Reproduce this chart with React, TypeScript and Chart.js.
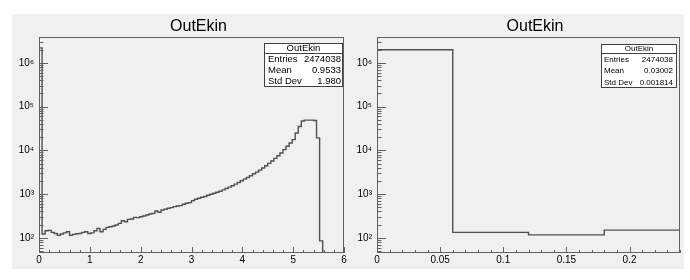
import React, { useEffect, useRef } from 'react';
import { Chart, registerables } from 'chart.js';

Chart.register(...registerables);

// ---------- data ----------
const TITLE = 'OutEkin';

const LEFT_RANGE = [0, 6];
const LEFT_COUNTS = [
  2200000, 122, 145, 148, 133, 126, 115, 122, 130, 138,
  115, 120, 124, 126, 133, 138, 126, 130, 145, 164,
  138, 156, 173, 179, 186, 196, 214, 246, 234, 264,
  269, 294, 289, 304, 315, 332, 350, 363, 411, 383,
  433, 449, 473, 490, 517, 535, 545, 585, 617, 639,
  710, 762, 804, 848, 878, 942, 993, 1047, 1104, 1164,
  1250, 1341, 1439, 1545, 1687, 1842, 2012, 2197, 2399, 2620,
  2911, 3182, 3539, 3936, 4449, 5034, 5697, 6559, 7551, 8704,
  10380, 12380, 14760, 17610, 25000, 35000, 47000, 49000, 49000, 49000,
  48000, 19300, 85, 0, 0, 0, 0, 0, 0, 0,
];

const RIGHT_RANGE = [0, 0.24];
const RIGHT_COUNTS = [2000000, 133, 117, 150];

const Y_MIN = 45;
const Y_MAX = 3.9e6;
const Y_TICKS = [100, 1000, 10000, 100000, 1000000];
const Y_TICK_LABELS = ['10²', '10³', '10⁴', '10⁵', '10⁶'];

const LEFT_X_TICKS = [0, 1, 2, 3, 4, 5, 6];
const LEFT_X_LABELS = ['0', '1', '2', '3', '4', '5', '6'];
const RIGHT_X_TICKS = [0, 0.05, 0.1, 0.15, 0.2];
const RIGHT_X_LABELS = ['0', '0.05', '0.1', '0.15', '0.2'];

const LEFT_STATS_LABELS = ['Entries', 'Mean', 'Std Dev'];
const LEFT_STATS_VALUES = ['2474038', '0.9533', '1.980'];
const RIGHT_STATS_LABELS = ['Entries', 'Mean', 'Std Dev'];
const RIGHT_STATS_VALUES = ['2474038', '0.03002', '0.001814'];

// ---------- style ----------
const FONT = '"Liberation Sans", Arial, Helvetica, sans-serif';
const LINE_COLOR = '#505050';
const FRAME_COLOR = '#606060';
const LOG_FLOOR = 1; // empty bins are drawn below the axis minimum

function histPoints(counts: number[], lo: number, hi: number) {
  const w = (hi - lo) / counts.length;
  const pts: { x: number; y: number }[] = [{ x: lo, y: LOG_FLOOR }];
  counts.forEach((c, i) => pts.push({ x: lo + i * w, y: Math.max(c, LOG_FLOOR) }));
  pts.push({ x: hi, y: Math.max(counts[counts.length - 1], LOG_FLOOR) });
  pts.push({ x: hi, y: LOG_FLOOR });
  return pts;
}

const rootPlugin = {
  id: 'rootStyle',
  afterDatasetsDraw(chart: any, _args: any, opts: any) {
    const { ctx, chartArea: a, scales } = chart;
    const xs = scales.x;
    const ys = scales.y;
    ctx.save();
    ctx.strokeStyle = FRAME_COLOR;
    ctx.lineWidth = 1;
    // frame
    ctx.strokeRect(a.left + 0.5, a.top + 0.5, a.right - a.left - 1, a.bottom - a.top - 1);
    // y ticks (inward)
    ctx.beginPath();
    for (let d = 10; d <= 1e7; d *= 10) {
      for (let k = 1; k <= 9; k++) {
        const v = k * d;
        if (v < ys.min || v > ys.max) continue;
        const py = Math.round(ys.getPixelForValue(v)) + 0.5;
        const len = k === 1 ? 9 : 4.5;
        ctx.moveTo(a.left, py);
        ctx.lineTo(a.left + len, py);
      }
    }
    // x ticks (inward)
    const lo = xs.min;
    const hi = xs.max;
    const n = Math.round((hi - lo) / opts.minorStep);
    for (let i = 0; i <= n; i++) {
      const v = lo + i * opts.minorStep;
      if (v > hi + 1e-9) continue;
      const px = Math.round(xs.getPixelForValue(v)) + 0.5;
      const major = i % opts.minorPerMajor === 0;
      const len = major ? 6 : 3;
      ctx.moveTo(px, a.bottom);
      ctx.lineTo(px, a.bottom - len);
    }
    ctx.stroke();
    ctx.restore();
  },
  afterDraw(chart: any, _args: any, opts: any) {
    const { ctx } = chart;
    ctx.save();
    // title
    ctx.fillStyle = '#000';
    ctx.font = `16px ${FONT}`;
    ctx.textAlign = 'center';
    ctx.textBaseline = 'alphabetic';
    ctx.fillText(opts.title, opts.titleX, opts.titleY);
    // stats box
    const b = opts.box;
    ctx.fillStyle = '#ffffff';
    ctx.fillRect(b.x, b.y, b.w, b.h);
    ctx.strokeStyle = '#404040';
    ctx.lineWidth = 1;
    ctx.strokeRect(b.x + 0.5, b.y + 0.5, b.w - 1, b.h - 1);
    ctx.beginPath();
    ctx.moveTo(b.x, b.y + b.header + 0.5);
    ctx.lineTo(b.x + b.w, b.y + b.header + 0.5);
    ctx.stroke();
    ctx.fillStyle = '#000';
    ctx.font = `${b.font}px ${FONT}`;
    ctx.textBaseline = 'middle';
    ctx.textAlign = 'center';
    ctx.fillText(opts.title, b.x + b.w / 2, b.y + b.header / 2 + 0.5);
    const rowH = (b.h - b.header) / opts.labels.length;
    opts.labels.forEach((lab: string, i: number) => {
      const cy = b.y + b.header + rowH * (i + 0.5) + 0.5;
      ctx.textAlign = 'left';
      ctx.fillText(lab, b.x + b.padL, cy);
      ctx.textAlign = 'right';
      ctx.fillText(opts.values[i], b.x + b.w - b.padR, cy);
    });
    ctx.restore();
  },
};

function makeChart(
  canvas: HTMLCanvasElement,
  cfg: {
    counts: number[];
    range: number[];
    xTicks: number[];
    xLabels: string[];
    yWidth: number;
    padRight: number;
    minorStep: number;
    minorPerMajor: number;
    titleX: number;
    box: any;
    labels: string[];
    values: string[];
  }
) {
  return new Chart(canvas, {
    type: 'line',
    data: {
      datasets: [
        {
          data: histPoints(cfg.counts, cfg.range[0], cfg.range[1]),
          stepped: 'before',
          borderColor: LINE_COLOR,
          borderWidth: 1.4,
          pointRadius: 0,
          fill: false,
        },
      ],
    },
    options: {
      responsive: false,
      animation: false,
      events: [],
      layout: { padding: { left: 0, right: cfg.padRight, top: 37, bottom: 0 } },
      plugins: {
        legend: { display: false },
        title: { display: false },
        tooltip: { enabled: false },
        rootStyle: {
          title: TITLE,
          titleX: cfg.titleX,
          titleY: 31,
          minorStep: cfg.minorStep,
          minorPerMajor: cfg.minorPerMajor,
          box: cfg.box,
          labels: cfg.labels,
          values: cfg.values,
        },
      } as any,
      scales: {
        x: {
          type: 'linear',
          min: cfg.range[0],
          max: cfg.range[1],
          grid: { display: false, drawTicks: false },
          border: { display: false },
          afterBuildTicks: (s: any) => {
            s.ticks = cfg.xTicks.map((v) => ({ value: v }));
          },
          afterFit: (s: any) => {
            s.height = 27;
            s.paddingLeft = 0;
            s.paddingRight = 0;
          },
          ticks: {
            padding: 1,
            maxRotation: 0,
            autoSkip: false,
            color: '#000',
            font: { family: FONT, size: 10 },
            callback: (_v: any, i: number) => cfg.xLabels[i],
          },
        },
        y: {
          type: 'logarithmic',
          min: Y_MIN,
          max: Y_MAX,
          grid: { display: false, drawTicks: false },
          border: { display: false },
          afterBuildTicks: (s: any) => {
            s.ticks = Y_TICKS.map((v) => ({ value: v }));
          },
          afterFit: (s: any) => {
            s.width = cfg.yWidth;
            s.paddingTop = 0;
            s.paddingBottom = 0;
          },
          ticks: {
            padding: 5,
            autoSkip: false,
            color: '#000',
            font: { family: FONT, size: 10 },
            callback: (_v: any, i: number) => Y_TICK_LABELS[i],
          },
        },
      },
    },
    plugins: [rootPlugin],
  } as any);
}

export default function App() {
  const leftRef = useRef<HTMLCanvasElement>(null);
  const rightRef = useRef<HTMLCanvasElement>(null);

  useEffect(() => {
    Chart.defaults.font.family = FONT;
    const left = makeChart(leftRef.current!, {
      counts: LEFT_COUNTS,
      range: LEFT_RANGE,
      xTicks: LEFT_X_TICKS,
      xLabels: LEFT_X_LABELS,
      yWidth: 39,
      padRight: 16,
      minorStep: 0.2,
      minorPerMajor: 5,
      titleX: 198.5,
      box: { x: 264, y: 43, w: 79, h: 44, header: 10, font: 9.5, padL: 4, padR: 2 },
      labels: LEFT_STATS_LABELS,
      values: LEFT_STATS_VALUES,
    });
    const right = makeChart(rightRef.current!, {
      counts: RIGHT_COUNTS,
      range: RIGHT_RANGE,
      xTicks: RIGHT_X_TICKS,
      xLabels: RIGHT_X_LABELS,
      yWidth: 32,
      padRight: 10,
      minorStep: 0.01,
      minorPerMajor: 5,
      titleX: 190,
      box: { x: 256, y: 44, w: 76, h: 44, header: 9, font: 8, padL: 3, padR: 4 },
      labels: RIGHT_STATS_LABELS,
      values: RIGHT_STATS_VALUES,
    });
    return () => {
      left.destroy();
      right.destroy();
    };
  }, []);

  return (
    <div
      style={{
        position: 'absolute',
        left: 0,
        top: 0,
        width: 690,
        height: 280,
        background: '#ffffff',
        overflow: 'hidden',
      }}
    >
      <div
        style={{
          position: 'absolute',
          left: 12,
          top: 14,
          width: 672,
          height: 255,
          background: '#f0f0f0',
        }}
      />
      <canvas
        ref={leftRef}
        width={360}
        height={280}
        style={{ position: 'absolute', left: 0, top: 0 }}
      />
      <canvas
        ref={rightRef}
        width={345}
        height={280}
        style={{ position: 'absolute', left: 345, top: 0 }}
      />
    </div>
  );
}
